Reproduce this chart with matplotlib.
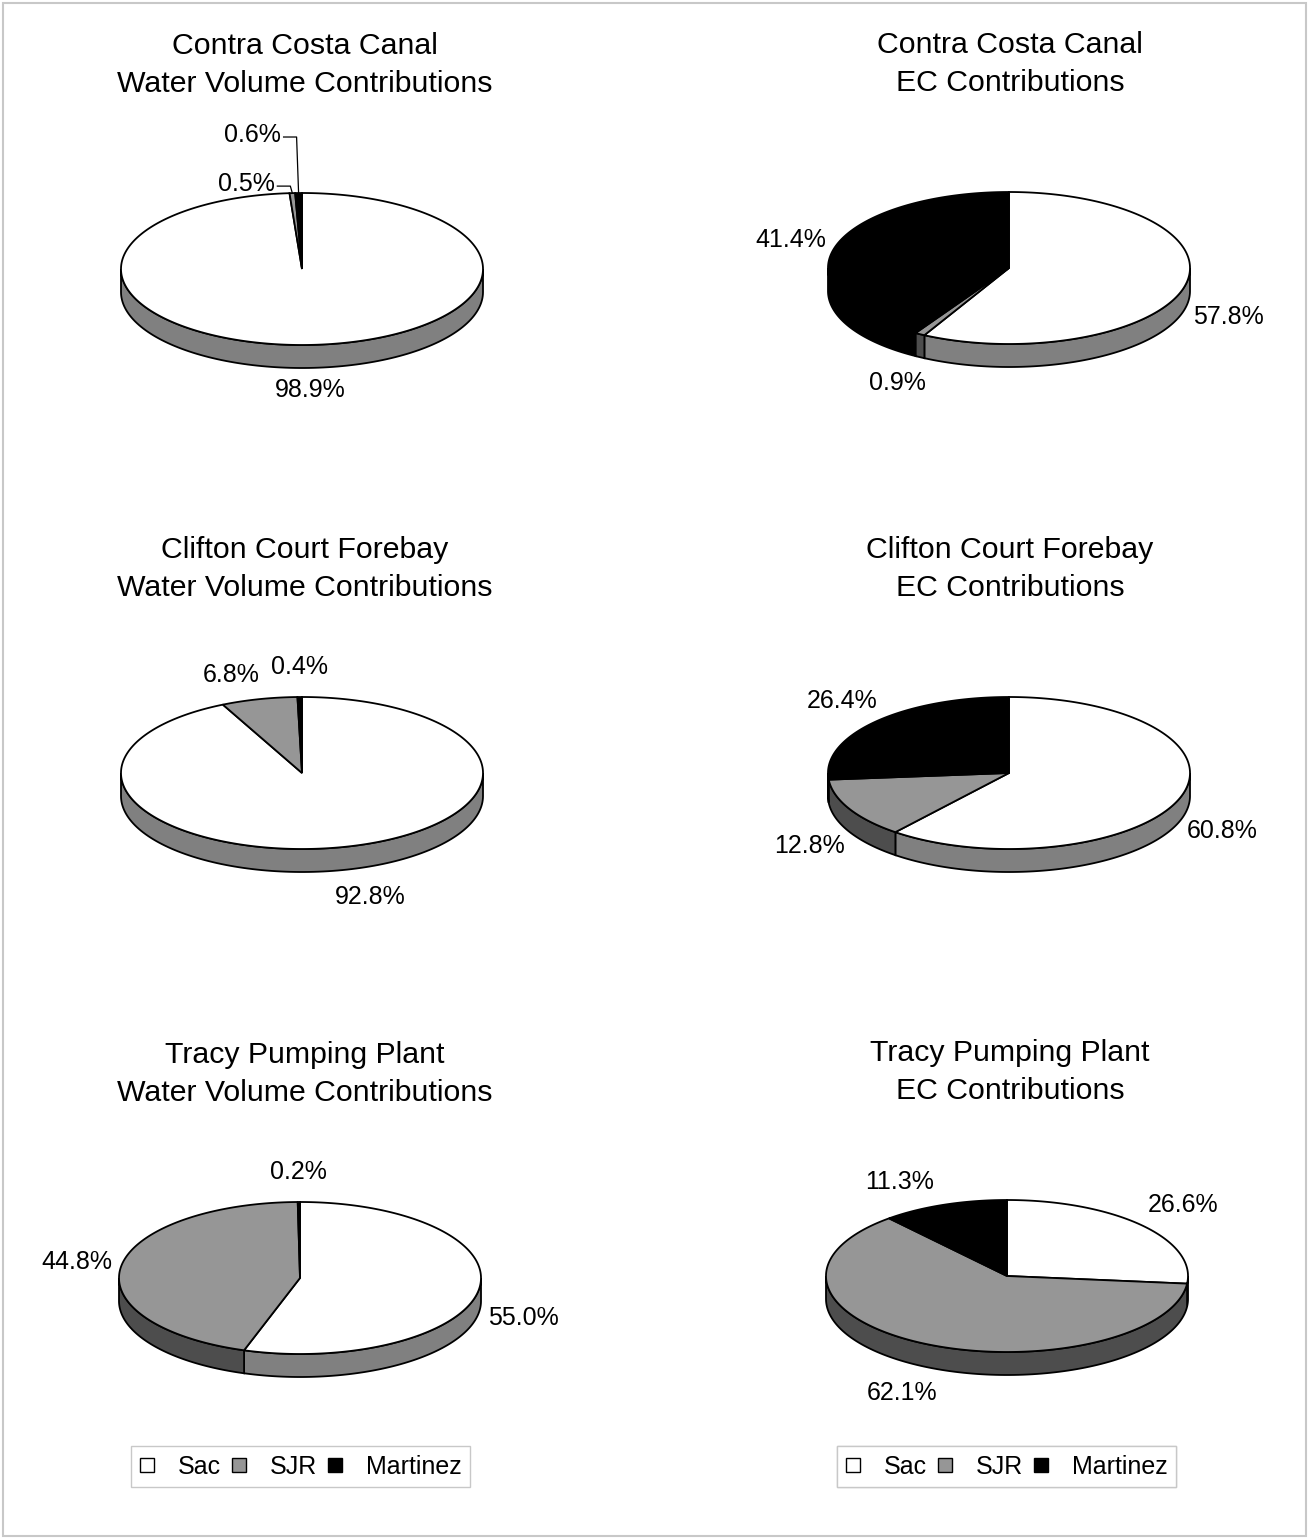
import numpy as np
import matplotlib
matplotlib.use("Agg")
import matplotlib.pyplot as plt
from matplotlib.patches import Polygon, Rectangle
from matplotlib.lines import Line2D

plt.rcParams['font.family'] = ['Liberation Sans', 'DejaVu Sans']

# Data (percent contributions, slices go clockwise from 12 o'clock)
series = ["Sac", "SJR", "Martinez"]
sites = ["Contra Costa Canal", "Clifton Court Forebay", "Tracy Pumping Plant"]
kinds = ["Water Volume Contributions", "EC Contributions"]
ccc_volume = [98.9, 0.5, 0.6]
ccc_ec = [57.8, 0.9, 41.4]
ccf_volume = [92.8, 6.8, 0.4]
ccf_ec = [60.8, 12.8, 26.4]
tracy_volume = [55.0, 44.8, 0.2]
tracy_ec = [26.6, 62.1, 11.3]
all_values = [ccc_volume, ccc_ec, ccf_volume, ccf_ec, tracy_volume, tracy_ec]

top_colors = ["white", "#969696", "black"]
side_colors = ["#808080", "#4d4d4d", "black"]

# layout (pixels)
centers = [(302, 269), (1009, 268), (302, 773), (1009, 773), (300, 1278), (1007, 1276)]
title_x = [305, 1010]
A, B, D = 181, 76, 23
nudges = {(0, 0): (0, -8), (2, 0): (18, -2), (2, 1): (-17, 5), (5, 2): (-29, 5),
          (5, 0): (8, 0)}
# labels with leader lines: (chart, slice) -> text offset from slice top point
leaders = {(0, 1): (-46, -9), (0, 2): (-46, -58)}

fig = plt.figure(figsize=(13.1, 15.39), dpi=100)
ax = fig.add_axes([0, 0, 1, 1])
ax.set_xlim(0, 1310)
ax.set_ylim(1539, 0)
ax.axis("off")


def pie3d(k, values, cx, cy):
    fr = np.array(values) / sum(values)
    bounds = np.concatenate([[0], np.cumsum(fr)]) * 360

    def pt(th):
        t = np.radians(th)
        return cx + A * np.sin(t), cy - B * np.cos(t)

    # side walls (front half only)
    for i in range(len(values)):
        lo, hi = max(bounds[i], 90), min(bounds[i + 1], 270)
        if hi <= lo:
            continue
        th = np.linspace(lo, hi, 120)
        x, y = pt(th)
        xs = np.concatenate([x, x[::-1]])
        ys = np.concatenate([y, y[::-1] + D])
        ax.add_patch(Polygon(np.column_stack([xs, ys]), closed=True,
                             fc=side_colors[i], ec="black", lw=1.3))
    # top faces
    for i in range(len(values)):
        th = np.linspace(bounds[i], bounds[i + 1], max(int(bounds[i + 1] - bounds[i]) * 2, 3))
        x, y = pt(th)
        poly = np.vstack([[cx, cy], np.column_stack([x, y])])
        ax.add_patch(Polygon(poly, closed=True, fc=top_colors[i], ec="black",
                             lw=1.3, joinstyle="miter"))
    # labels
    for i, v in enumerate(values):
        mid = (bounds[i] + bounds[i + 1]) / 2
        t = np.radians(mid)
        txt = f"{v:.1f}%"
        if (k, i) in leaders:
            px, py = pt(mid)
            ox, oy = leaders[(k, i)]
            tx, ty = px + ox, py + oy
            ax.text(tx, ty, txt, fontsize=18, ha="center", va="center")
            ax.plot([tx + 31, px - 2, px], [ty + 2, ty + 2, py], color="black", lw=0.9)
            continue
        lx = cx + (A + 45) * np.sin(t)
        ly = cy - (B + 30) * np.cos(t) + (D if np.cos(t) < 0 else 0)
        dx, dy = nudges.get((k, i), (0, 0))
        ax.text(lx + dx, ly + dy, txt, fontsize=18, ha="center", va="center")


for k, vals in enumerate(all_values):
    cx, cy = centers[k]
    pie3d(k, vals, cx, cy)
    tx = title_x[k % 2]
    ax.text(tx, cy - 223, sites[k // 2], fontsize=21.8, ha="center", va="center")
    ax.text(tx, cy - 185, kinds[k % 2], fontsize=21.8, ha="center", va="center")

# legends
handles = [Line2D([], [], ls="none", marker="s", ms=9.5, mfc=c, mec="black", mew=1)
           for c in top_colors]
for lx in [300.5, 1006.5]:
    leg = ax.legend(handles, series, loc="center", bbox_to_anchor=(lx, 1466.5),
                    bbox_transform=ax.transData, ncol=3, fontsize=18,
                    handlelength=0.6, handletextpad=0.94, columnspacing=0.42,
                    borderpad=0.34, fancybox=False, framealpha=1,
                    edgecolor="#c8c8c8")
    leg.get_frame().set_linewidth(1.0)
    ax.add_artist(leg)

# outer frame
ax.add_patch(Rectangle((3, 3), 1303, 1533, fill=False, ec="#c8c8c8", lw=1.5))

fig.savefig("out.png", dpi=100)
